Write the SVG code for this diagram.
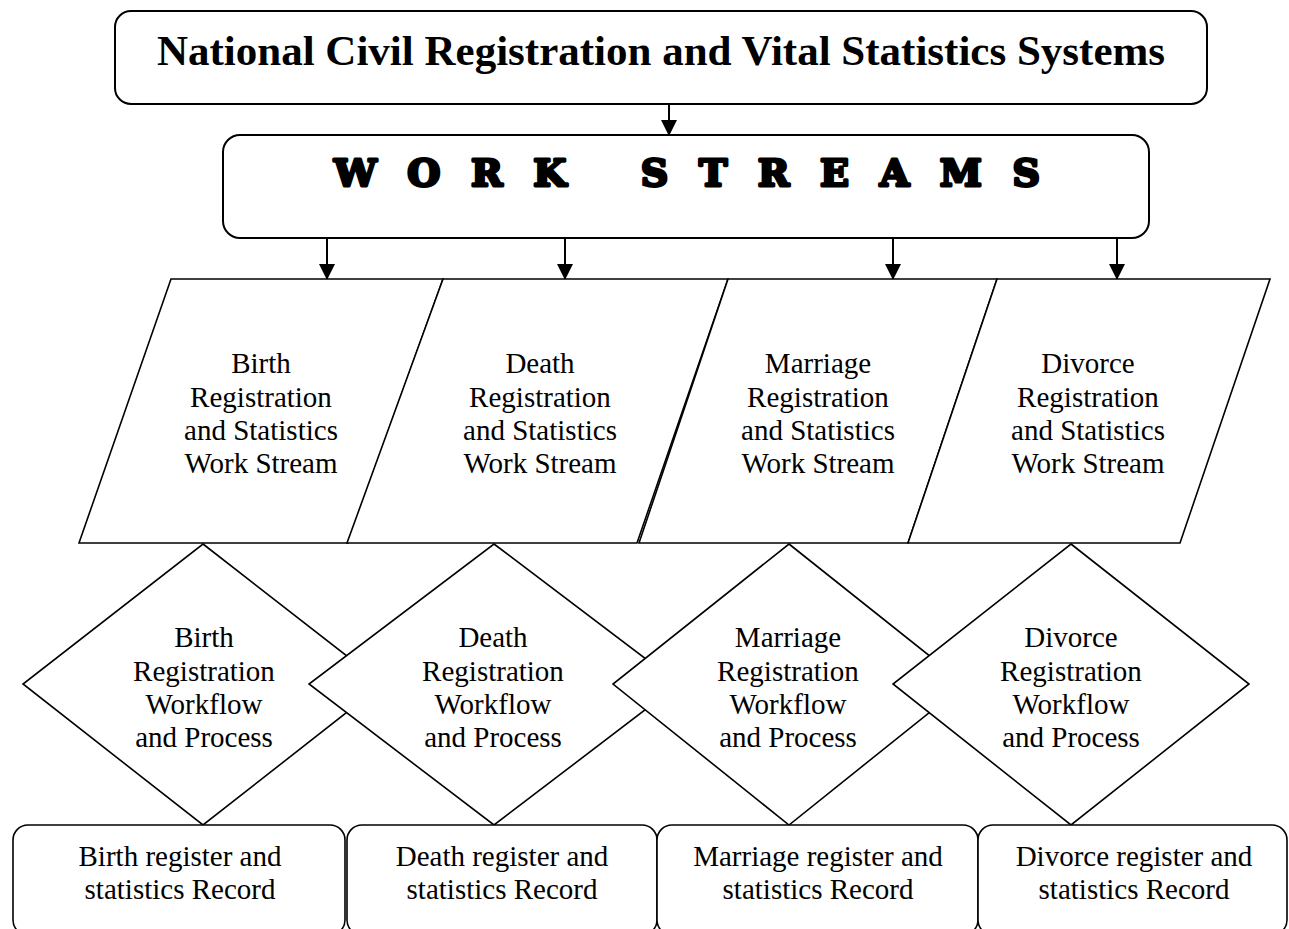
<svg xmlns="http://www.w3.org/2000/svg" width="1289" height="929" viewBox="0 0 1289 929">
<defs>
<marker id="ah" markerWidth="16" markerHeight="16" refX="15" refY="8" orient="auto" markerUnits="userSpaceOnUse">
<path d="M0,0 L16,8 L0,16 Z" fill="#000"/>
</marker>
<style>
.box{fill:#fff;stroke:#000;stroke-width:2}
.shape{fill:#fff;stroke:#000;stroke-width:1.6}
.t{font-family:"Liberation Serif","Times New Roman",serif;font-size:29px;fill:#000;text-anchor:middle}
.title{font-family:"Liberation Serif","Times New Roman",serif;font-size:43px;font-weight:bold;fill:#000;text-anchor:middle}
.ws{font-family:"DejaVu Serif",serif;font-size:38px;font-weight:900;fill:#000;stroke:#000;stroke-width:3;stroke-linejoin:round}
.conn{stroke:#000;stroke-width:2;fill:none}
</style>
</defs>
<rect width="1289" height="929" fill="#fff"/>

<g id="title">
<rect class="box" x="115" y="11" width="1092" height="93" rx="16"/>
<text class="title" x="661" y="65">National Civil Registration and Vital Statistics Systems</text>
</g>

<g id="workstreams">
<rect class="box" x="223" y="135" width="926" height="103" rx="17"/>
<text class="ws" x="334" y="186" textLength="706" lengthAdjust="spacing">WORK  STREAMS</text>
</g>

<g id="connectors">
<line class="conn" x1="669" y1="104" x2="669" y2="135" marker-end="url(#ah)"/>
<line class="conn" x1="327" y1="238" x2="327" y2="279" marker-end="url(#ah)"/>
<line class="conn" x1="565" y1="238" x2="565" y2="279" marker-end="url(#ah)"/>
<line class="conn" x1="893" y1="238" x2="893" y2="279" marker-end="url(#ah)"/>
<line class="conn" x1="1117" y1="238" x2="1117" y2="279" marker-end="url(#ah)"/>
</g>

<g id="ws-birth">
<polygon class="shape" points="171,279 443,279 348,543 79,543"/>
<text class="t" x="261" y="373">Birth</text>
<text class="t" x="261" y="407">Registration</text>
<text class="t" x="261" y="440">and Statistics</text>
<text class="t" x="261" y="473">Work Stream</text>
</g>
<g id="ws-death">
<polygon class="shape" points="443,279 728,279 637,543 347,543"/>
<text class="t" x="540" y="373">Death</text>
<text class="t" x="540" y="407">Registration</text>
<text class="t" x="540" y="440">and Statistics</text>
<text class="t" x="540" y="473">Work Stream</text>
</g>
<g id="ws-marriage">
<polygon class="shape" points="728,279 997,279 908,543 639,543"/>
<text class="t" x="818" y="373">Marriage</text>
<text class="t" x="818" y="407">Registration</text>
<text class="t" x="818" y="440">and Statistics</text>
<text class="t" x="818" y="473">Work Stream</text>
</g>
<g id="ws-divorce">
<polygon class="shape" points="997,279 1270,279 1180,543 908,543"/>
<text class="t" x="1088" y="373">Divorce</text>
<text class="t" x="1088" y="407">Registration</text>
<text class="t" x="1088" y="440">and Statistics</text>
<text class="t" x="1088" y="473">Work Stream</text>
</g>

<g id="wf-birth">
<polygon class="shape" points="203,544 383,684 203,825 23,684"/>
<text class="t" x="204" y="647">Birth</text>
<text class="t" x="204" y="681">Registration</text>
<text class="t" x="204" y="714">Workflow</text>
<text class="t" x="204" y="747">and Process</text>
</g>
<g id="wf-death">
<polygon class="shape" points="494,544 679,684 494,825 309,684"/>
<text class="t" x="493" y="647">Death</text>
<text class="t" x="493" y="681">Registration</text>
<text class="t" x="493" y="714">Workflow</text>
<text class="t" x="493" y="747">and Process</text>
</g>
<g id="wf-marriage">
<polygon class="shape" points="789,544 965,684 789,825 613,684"/>
<text class="t" x="788" y="647">Marriage</text>
<text class="t" x="788" y="681">Registration</text>
<text class="t" x="788" y="714">Workflow</text>
<text class="t" x="788" y="747">and Process</text>
</g>
<g id="wf-divorce">
<polygon class="shape" points="1071,544 1249,684 1071,825 893,684"/>
<text class="t" x="1071" y="647">Divorce</text>
<text class="t" x="1071" y="681">Registration</text>
<text class="t" x="1071" y="714">Workflow</text>
<text class="t" x="1071" y="747">and Process</text>
</g>

<g id="rec-birth">
<rect class="shape" x="13" y="825" width="332" height="110" rx="15"/>
<text class="t" x="180" y="866">Birth register and</text>
<text class="t" x="180" y="899">statistics Record</text>
</g>
<g id="rec-death">
<rect class="shape" x="347" y="825" width="310" height="110" rx="15"/>
<text class="t" x="502" y="866">Death register and</text>
<text class="t" x="502" y="899">statistics Record</text>
</g>
<g id="rec-marriage">
<rect class="shape" x="657" y="825" width="321" height="110" rx="15"/>
<text class="t" x="818" y="866">Marriage register and</text>
<text class="t" x="818" y="899">statistics Record</text>
</g>
<g id="rec-divorce">
<rect class="shape" x="978" y="825" width="309" height="110" rx="15"/>
<text class="t" x="1134" y="866">Divorce register and</text>
<text class="t" x="1134" y="899">statistics Record</text>
</g>
</svg>
